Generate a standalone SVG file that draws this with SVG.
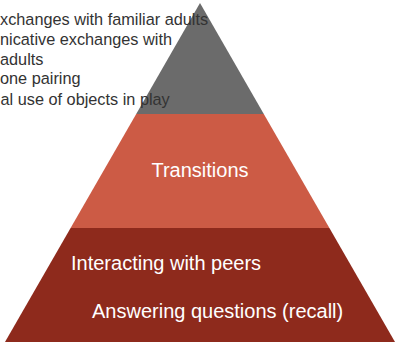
<svg xmlns="http://www.w3.org/2000/svg" width="396" height="345" viewBox="0 0 396 345">
<style>
.lbl{font-family:"Liberation Sans",Arial,sans-serif;}
.top{font-size:16.3px;fill:#333333;}
.w{font-size:20px;fill:#ffffff;}
</style>
<rect width="396" height="345" fill="#ffffff"/>
<g id="level-top">
<polygon points="200,3 263.8,114 136.2,114" fill="#6b6b6b"/>
</g>
<g id="level-middle">
<polygon points="136.2,114 263.8,114 329.4,228 70.6,228" fill="#cc5b45"/>
<text class="lbl w" x="200" y="177" text-anchor="middle">Transitions</text>
</g>
<g id="level-bottom">
<polygon points="70.6,228 329.4,228 395,342 5,342" fill="#8e2a1c"/>
<text class="lbl w" x="71" y="270">Interacting with peers</text>
<text class="lbl w" x="92" y="318">Answering questions (recall)</text>
</g>
<g id="top-list">
<text class="lbl top" x="0" y="25">xchanges with familiar adults</text>
<text class="lbl top" x="0" y="45">nicative exchanges with</text>
<text class="lbl top" x="0" y="65">adults</text>
<text class="lbl top" x="0" y="84">one pairing</text>
<text class="lbl top" x="0.5" y="105">al use of objects in play</text>
</g>
<g id="connectors"></g>
</svg>
